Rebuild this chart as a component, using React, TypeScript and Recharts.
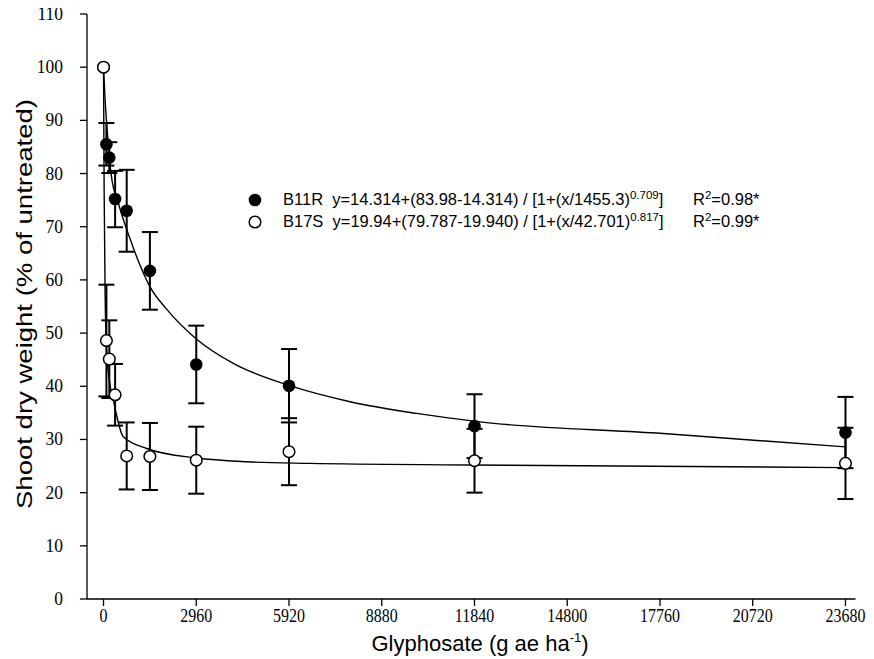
import React from 'react';
import { ComposedChart, Scatter, Line, XAxis, YAxis, ErrorBar } from 'recharts';

// glyphosate doses (g ae/ha) and mean shoot dry weight (% of untreated) with error
const doses = [0, 92.5, 185, 370, 740, 1480, 2960, 5920, 11840, 23680];
const b11rMean = [100, 85.5, 83, 75.2, 73, 61.7, 44.1, 40.1, 32.5, 31.3];
const b11rErr = [0, 4, 2.9, 5.3, 7.7, 7.3, 7.3, 6.9, 6, 6.7];
const b17sMean = [100, 48.6, 45.1, 38.4, 26.9, 26.8, 26.1, 27.7, 26, 25.5];
const b17sErr = [0, 10.5, 7.3, 5.8, 6.3, 6.3, 6.3, 6.3, 6, 6.7];

// fitted curves
const b11rCurveX = [0, 46, 92.5, 185, 240, 505, 824, 1143, 1484, 2000, 2943, 4143, 5898, 7868, 9996, 12016, 17656, 23680];
const b11rCurveY = [100, 94.4, 90.1, 83.4, 80, 73.8, 68.1, 63.1, 58.7, 54.6, 49, 44.3, 40.2, 37.1, 34.9, 33.3, 31.2, 28.6];
const b17sCurveX = [0, 20, 50, 92.5, 185, 313, 632, 1378, 2975, 4570, 6590, 11697, 23680];
const b17sCurveY = [100, 77.1, 58, 47.4, 41.2, 37.4, 30.5, 28.3, 26.5, 25.8, 25.5, 25.2, 24.7];

const xTicks = [0, 2960, 5920, 8880, 11840, 14800, 17760, 20720, 23680];
const yTicks = [0, 10, 20, 30, 40, 50, 60, 70, 80, 90, 100, 110];

const b11r = doses.map((x, i) => ({ x, y: b11rMean[i], err: b11rErr[i] }));
const b17s = doses.map((x, i) => ({ x, y: b17sMean[i], err: b17sErr[i] }));
const b11rCurve = b11rCurveX.map((x, i) => ({ x, y: b11rCurveY[i] }));
const b17sCurve = b17sCurveX.map((x, i) => ({ x, y: b17sCurveY[i] }));

const sans = 'Liberation Sans, Arial, sans-serif';
const serif = 'Liberation Serif, Times New Roman, serif';

const Filled = (p: any) => <circle cx={p.cx} cy={p.cy} r={6.3} fill="#000" />;
const Open = (p: any) => <circle cx={p.cx} cy={p.cy} r={5.8} fill="#fff" stroke="#000" strokeWidth={1.5} />;

const XTick = ({ x, y, payload }: any) => (
  <text x={x} y={y + 14} textAnchor="middle" fontFamily={serif} fontSize={19} fill="#000"
    transform={`translate(${x},0) scale(0.84,1) translate(${-x},0)`}>
    {payload.value}
  </text>
);

const YTick = ({ x, y, payload }: any) => (
  <text x={x - 15} y={y} dy={6} textAnchor="end" fontFamily={serif} fontSize={19} fill="#000"
    transform={`translate(${x - 15},0) scale(0.92,1) translate(${-(x - 15)},0)`}>
    {payload.value}
  </text>
);

const YTitle = () => {
  const x = 24;
  const y = 304;
  return (
    <text x={x} y={y} transform={`rotate(-90, ${x}, ${y})`} textAnchor="middle" dominantBaseline="central"
      fontFamily={sans} fontSize={22} fill="#000" textLength={410} lengthAdjust="spacingAndGlyphs">
      Shoot dry weight (% of untreated)
    </text>
  );
};

const XTitle = ({ viewBox }: any) => (
  <text x={480} y={viewBox.y + 52} textAnchor="middle" fontFamily={sans} fontSize={22} fill="#000">
    Glyphosate (g ae ha<tspan dy={-9} fontSize={13}>-1</tspan><tspan dy={9}>)</tspan>
  </text>
);

type LegendRow = { name: string; eq: string; base: string; exp: string; r2: string };
const legendRows: LegendRow[] = [
  { name: 'B11R', eq: 'y=14.314+(83.98-14.314)', base: '[1+(x/1455.3)', exp: '0.709', r2: '=0.98*' },
  { name: 'B17S', eq: 'y=19.94+(79.787-19.940)', base: '[1+(x/42.701)', exp: '0.817', r2: '=0.99*' },
];

const LegendBox = () => {
  const sup = { fontSize: 11.5, verticalAlign: 'super', lineHeight: 0 };
  const seg = (left: number) => ({ position: 'absolute' as const, left, top: 0, lineHeight: '21.7px', whiteSpace: 'nowrap' as const });
  return (
    <div style={{ position: 'absolute', left: 248, top: 189, width: 530, fontFamily: sans, fontSize: 16.5, color: '#000' }}>
      {legendRows.map((r, i) => (
        <div key={r.name} style={{ position: 'relative', height: 21.7 }}>
          <svg width={14} height={14} style={{ position: 'absolute', left: 0, top: 4 }}>
            {i === 0
              ? <circle cx={7} cy={7} r={6.3} fill="#000" />
              : <circle cx={7} cy={7} r={5.8} fill="#fff" stroke="#000" strokeWidth={1.5} />}
          </svg>
          <span style={seg(35)}>
            {r.name}&nbsp;&nbsp;{r.eq} / {r.base}<span style={sup}>{r.exp}</span>]
          </span>
          <span style={seg(445)}>R<span style={sup}>2</span>{r.r2}</span>
        </div>
      ))}
    </div>
  );
};

export default function App() {
  return (
    <div style={{ position: 'relative', left: -8, top: -8, width: 874, height: 659, background: '#fff' }}>
      <ComposedChart width={874} height={659} margin={{ top: 14, right: 18.5, bottom: 0, left: 0 }}>
        <XAxis dataKey="x" type="number" domain={[-527, 24000]} ticks={xTicks} allowDataOverflow
          axisLine={{ stroke: '#000', strokeWidth: 1.3 }} tickLine={{ stroke: '#000', strokeWidth: 1.3 }}
          tickSize={7} height={60} tick={XTick} label={XTitle} />
        <YAxis dataKey="y" type="number" domain={[0, 110]} ticks={yTicks} allowDataOverflow
          axisLine={{ stroke: '#000', strokeWidth: 1.3 }} tickLine={{ stroke: '#000', strokeWidth: 1.3 }}
          tickSize={7} width={87} tick={YTick} label={YTitle} />
        <Line data={b11rCurve} dataKey="y" type="monotone" stroke="#000" strokeWidth={1.4} dot={false}
          isAnimationActive={false} />
        <Line data={b17sCurve} dataKey="y" type="monotone" stroke="#000" strokeWidth={1.4} dot={false}
          isAnimationActive={false} />
        <Scatter data={b11r} dataKey="y" shape={Filled} isAnimationActive={false}>
          <ErrorBar dataKey="err" direction="y" width={8} stroke="#000" strokeWidth={2} isAnimationActive={false} />
        </Scatter>
        <Scatter data={b17s} dataKey="y" shape={Open} isAnimationActive={false}>
          <ErrorBar dataKey="err" direction="y" width={8} stroke="#000" strokeWidth={2} isAnimationActive={false} />
        </Scatter>
      </ComposedChart>
      <LegendBox />
    </div>
  );
}
